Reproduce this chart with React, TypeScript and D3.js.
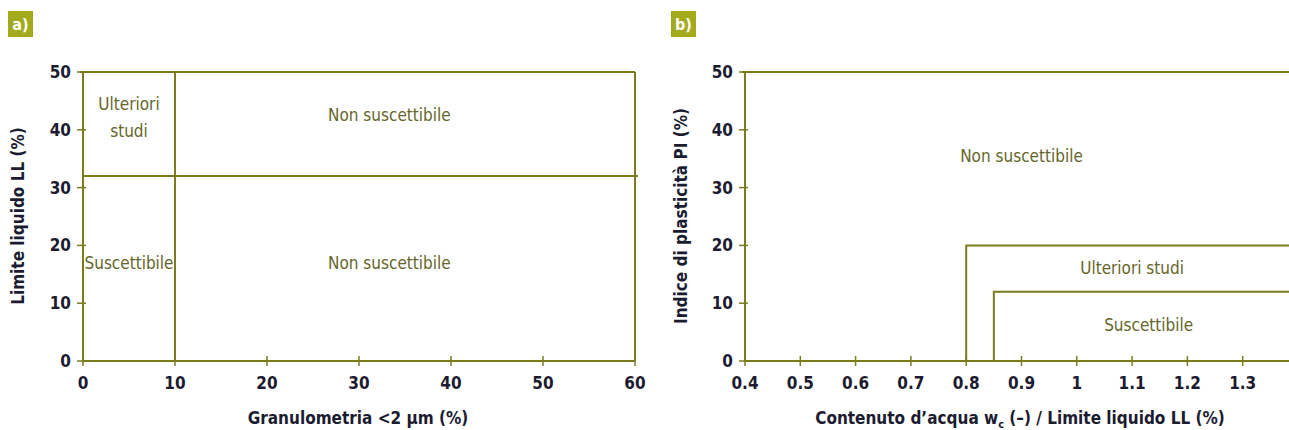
import * as d3 from "d3";
import { useEffect, useRef } from "react";

// panel a: granulometry vs liquid limit
const aXTicks = [0, 10, 20, 30, 40, 50, 60];
const aYTicks = [0, 10, 20, 30, 40, 50];
const aVertical = [10];
const aHorizontal = [32];
const aLabels = [
  { x: 5, y: 42.5, lines: ["Ulteriori", "studi"] },
  { x: 33.3, y: 42.5, lines: ["Non suscettibile"] },
  { x: 5, y: 17, lines: ["Suscettibile"] },
  { x: 33.3, y: 17, lines: ["Non suscettibile"] },
];

// panel b: water content / LL vs plasticity index
const bXTicks = [0.4, 0.5, 0.6, 0.7, 0.8, 0.9, 1, 1.1, 1.2, 1.3];
const bYTicks = [0, 10, 20, 30, 40, 50];
const bSteps = [
  { x: 0.8, y: 20 },
  { x: 0.85, y: 12 },
];
const bLabels = [
  { x: 0.9, y: 35.5, lines: ["Non suscettibile"] },
  { x: 1.1, y: 16, lines: ["Ulteriori studi"] },
  { x: 1.13, y: 6.3, lines: ["Suscettibile"] },
];

const LINE = "#7b7b1c";
const TEXT = "#66662a";
const DARK = "#1c1c30";
const FONT = "'Liberation Sans Narrow', 'DejaVu Sans Condensed', sans-serif";

export default function App() {
  const svgRef = useRef<SVGSVGElement>(null);

  useEffect(() => {
    if (!svgRef.current) return;
    const svg = d3.select(svgRef.current);
    svg.selectAll("*").remove();

    const badge = (x: number, label: string) => {
      svg.append("rect").attr("x", x).attr("y", 11).attr("width", 25).attr("height", 26).attr("fill", "#a3aa1e");
      svg.append("text").attr("x", x + 12.5).attr("y", 30).attr("text-anchor", "middle")
        .attr("fill", "white").style("font-family", FONT).style("font-size", "16px").style("font-weight", "bold")
        .text(label);
    };

    const drawLabels = (g: any, labels: any[], x: any, y: any) => {
      labels.forEach((l) => {
        const t = g.append("text").attr("x", x(l.x)).attr("y", y(l.y))
          .attr("text-anchor", "middle").attr("fill", TEXT)
          .style("font-family", FONT).style("font-size", "17px");
        l.lines.forEach((s: string, i: number) => {
          t.append("tspan").attr("x", x(l.x)).attr("dy", i === 0 ? (l.lines.length > 1 ? "-0.3em" : "0.35em") : "1.6em").text(s);
        });
      });
    };

    const axes = (x: any, y: any, xTicks: number[], yTicks: number[], fmt: (d: number) => string) => {
      const [x0, x1] = x.range();
      const [y0, y1] = y.range();
      const g = svg.append("g");
      // axis lines
      g.append("line").attr("x1", x0).attr("x2", x1).attr("y1", y0).attr("y2", y0).attr("stroke", LINE).attr("stroke-width", 2);
      g.append("line").attr("x1", x0).attr("x2", x0).attr("y1", y0).attr("y2", y1).attr("stroke", LINE).attr("stroke-width", 2);
      g.selectAll(".xt").data(xTicks).enter().append("line")
        .attr("x1", (d: number) => x(d)).attr("x2", (d: number) => x(d))
        .attr("y1", y0 - 5).attr("y2", y0 + 5).attr("stroke", LINE).attr("stroke-width", 1.5);
      g.selectAll(".yt").data(yTicks).enter().append("line")
        .attr("x1", x0 - 6).attr("x2", x0 + 3)
        .attr("y1", (d: number) => y(d)).attr("y2", (d: number) => y(d)).attr("stroke", LINE).attr("stroke-width", 1.5);
      g.selectAll(".xl").data(xTicks).enter().append("text")
        .attr("x", (d: number) => x(d)).attr("y", y0 + 28).attr("text-anchor", "middle")
        .attr("fill", DARK).style("font-family", FONT).style("font-size", "17px").style("font-weight", "bold")
        .text(fmt);
      g.selectAll(".yl").data(yTicks).enter().append("text")
        .attr("x", x0 - 12).attr("y", (d: number) => y(d) + 6).attr("text-anchor", "end")
        .attr("fill", DARK).style("font-family", FONT).style("font-size", "17px").style("font-weight", "bold")
        .text((d: number) => String(d));
      return g;
    };

    const title = (x: number, y: number, rotate = false) => {
      const t = svg.append("text").attr("text-anchor", "middle").attr("fill", DARK)
        .style("font-family", FONT).style("font-size", "17px").style("font-weight", "bold");
      if (rotate) t.attr("transform", `translate(${x},${y}) rotate(-90)`);
      else t.attr("x", x).attr("y", y);
      return t;
    };

    // ---- panel a ----
    badge(8, "a)");
    const ax = d3.scaleLinear().domain([0, 60]).range([83, 635]);
    const ay = d3.scaleLinear().domain([0, 50]).range([361, 72]);
    const ga = axes(ax, ay, aXTicks, aYTicks, (d) => String(d));
    ga.append("line").attr("x1", ax(0) - 3).attr("x2", ax(60)).attr("y1", ay(50)).attr("y2", ay(50)).attr("stroke", LINE).attr("stroke-width", 2);
    ga.append("line").attr("x1", ax(60)).attr("x2", ax(60)).attr("y1", ay(50)).attr("y2", ay(0)).attr("stroke", LINE).attr("stroke-width", 2);
    aVertical.forEach((v) =>
      ga.append("line").attr("x1", ax(v)).attr("x2", ax(v)).attr("y1", ay(50)).attr("y2", ay(0)).attr("stroke", LINE).attr("stroke-width", 2));
    aHorizontal.forEach((v) =>
      ga.append("line").attr("x1", ax(0)).attr("x2", ax(60) + 3).attr("y1", ay(v)).attr("y2", ay(v)).attr("stroke", LINE).attr("stroke-width", 2));
    drawLabels(ga, aLabels, ax, ay);
    title(358, 424).text("Granulometria <2 µm (%)");
    title(24, 216, true).text("Limite liquido LL (%)");

    // ---- panel b ----
    badge(671, "b)");
    const bx = d3.scaleLinear().domain([0.4, 1.4]).range([745, 1298]);
    const by = d3.scaleLinear().domain([0, 50]).range([361, 72]);
    const gb = axes(bx, by, bXTicks, bYTicks, (d) => String(d));
    gb.append("line").attr("x1", bx(0.4) - 3).attr("x2", bx(1.4)).attr("y1", by(50)).attr("y2", by(50)).attr("stroke", LINE).attr("stroke-width", 2);
    bSteps.forEach((s) => {
      gb.append("path")
        .attr("d", d3.line()([[bx(s.x), by(0)], [bx(s.x), by(s.y)], [bx(1.4), by(s.y)]]))
        .attr("fill", "none").attr("stroke", LINE).attr("stroke-width", 2);
    });
    drawLabels(gb, bLabels, bx, by);
    const tb = title(1020, 424);
    tb.append("tspan").text("Contenuto d’acqua w");
    tb.append("tspan").attr("dy", 4).style("font-size", "11px").text("c");
    tb.append("tspan").attr("dy", -4).text(" (–) / Limite liquido LL (%)");
    title(687, 216, true).text("Indice di plasticità PI (%)");
  }, []);

  return (
    <svg
      ref={svgRef}
      width={1289}
      height={430}
      style={{ position: "absolute", left: 0, top: 0, background: "white" }}
    />
  );
}
